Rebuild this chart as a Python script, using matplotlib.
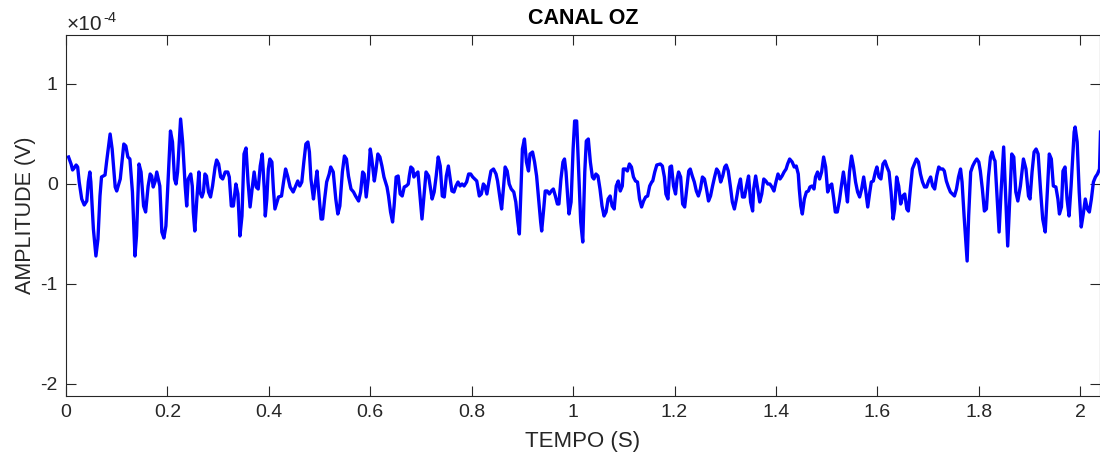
import matplotlib
matplotlib.use("Agg")
import matplotlib.pyplot as plt
from matplotlib.ticker import FixedLocator, FixedFormatter
import numpy as np

plt.rcParams['font.family'] = ['Liberation Sans', 'DejaVu Sans']
plt.rcParams['axes.unicode_minus'] = False

title = "CANAL OZ"
xlabel = "TEMPO (S)"
ylabel = "AMPLITUDE (V)"

# time (s)
tempo_s = [
    0.005, 0.010, 0.013, 0.016, 0.020, 0.023, 0.026, 0.031, 0.036, 0.041, 0.044, 0.047, 0.049, 0.054, 0.059,
    0.063, 0.067, 0.070, 0.077, 0.080, 0.087, 0.091, 0.097, 0.100, 0.107, 0.114, 0.118, 0.122, 0.126, 0.131,
    0.136, 0.139, 0.144, 0.148, 0.153, 0.157, 0.162, 0.166, 0.169, 0.172, 0.176, 0.179,
    0.185, 0.189, 0.193, 0.197, 0.202, 0.206, 0.210, 0.214, 0.217, 0.220, 0.224, 0.226, 0.230, 0.235, 0.238,
    0.241, 0.246, 0.249, 0.251, 0.254, 0.258, 0.262, 0.264, 0.268, 0.271, 0.274, 0.277, 0.281, 0.285, 0.289,
    0.294, 0.297, 0.301, 0.305, 0.309, 0.314, 0.319, 0.322, 0.326, 0.330, 0.335, 0.339, 0.343, 0.347, 0.351,
    0.355, 0.359, 0.363, 0.367, 0.371, 0.375, 0.379, 0.383, 0.387, 0.391,
    0.393, 0.396, 0.399, 0.402, 0.406, 0.409, 0.412, 0.416, 0.419, 0.425, 0.429, 0.433, 0.437, 0.442, 0.448,
    0.453, 0.457, 0.461, 0.465, 0.469, 0.473, 0.477, 0.480, 0.483, 0.488, 0.491, 0.495, 0.499, 0.503, 0.506,
    0.510, 0.514, 0.519, 0.522, 0.527, 0.532, 0.536, 0.540, 0.545, 0.549, 0.553, 0.557, 0.562, 0.567, 0.571,
    0.577, 0.581, 0.585, 0.588, 0.592, 0.596, 0.600,
    0.603, 0.608, 0.611, 0.615, 0.619, 0.623, 0.627, 0.633, 0.636, 0.640, 0.644, 0.647, 0.651, 0.655, 0.659,
    0.663, 0.667, 0.671, 0.675, 0.677, 0.680, 0.684, 0.686, 0.690, 0.694, 0.698, 0.702, 0.706, 0.710, 0.715,
    0.718, 0.722, 0.726, 0.730, 0.734, 0.738, 0.742, 0.746, 0.750, 0.754, 0.757, 0.761, 0.765, 0.769, 0.773,
    0.777, 0.781, 0.785, 0.790, 0.794, 0.798, 0.802, 0.806,
    0.810, 0.815, 0.819, 0.823, 0.826, 0.830, 0.834, 0.838, 0.843, 0.848, 0.851, 0.856, 0.859, 0.863, 0.866,
    0.870, 0.874, 0.878, 0.883, 0.887, 0.891, 0.894, 0.897, 0.900, 0.904, 0.908, 0.912, 0.915, 0.920, 0.924,
    0.928, 0.932, 0.936, 0.938, 0.942, 0.945, 0.949, 0.953, 0.957, 0.961, 0.965, 0.969, 0.972, 0.976, 0.980,
    0.983, 0.986, 0.990, 0.992, 0.996, 1.000, 1.003, 1.007, 1.011, 1.015,
    1.019, 1.023, 1.026, 1.030, 1.034, 1.038, 1.041, 1.045, 1.049, 1.053, 1.057, 1.061, 1.065, 1.069, 1.073,
    1.077, 1.081, 1.085, 1.089, 1.093, 1.097, 1.099, 1.103, 1.107, 1.111, 1.115, 1.119, 1.123, 1.127, 1.131,
    1.135, 1.139, 1.143, 1.147, 1.151, 1.155, 1.157, 1.161, 1.165, 1.172, 1.176, 1.180, 1.183, 1.187, 1.191,
    1.194, 1.198, 1.202, 1.205, 1.208, 1.212, 1.216, 1.220,
    1.224, 1.228, 1.231, 1.235, 1.239, 1.243, 1.247, 1.251, 1.255, 1.259, 1.263, 1.267, 1.271, 1.275, 1.279,
    1.283, 1.287, 1.291, 1.295, 1.299, 1.302, 1.306, 1.310, 1.314, 1.318, 1.322, 1.326, 1.330, 1.334, 1.338,
    1.342, 1.346, 1.350, 1.354, 1.356, 1.360, 1.364, 1.368, 1.372, 1.376, 1.380, 1.384, 1.388, 1.392, 1.396,
    1.400, 1.404, 1.408, 1.412, 1.416, 1.420, 1.423, 1.427,
    1.432, 1.436, 1.440, 1.444, 1.446, 1.449, 1.452, 1.456, 1.460, 1.464, 1.467, 1.471, 1.475, 1.478, 1.482,
    1.486, 1.490, 1.494, 1.498, 1.502, 1.506, 1.510, 1.514, 1.517, 1.521, 1.525, 1.529, 1.533, 1.537, 1.541,
    1.545, 1.549, 1.553, 1.557, 1.561, 1.565, 1.569, 1.573, 1.577, 1.581, 1.585, 1.588, 1.592, 1.596, 1.599,
    1.603, 1.607, 1.611, 1.615, 1.619, 1.623, 1.627, 1.631, 1.634, 1.638, 1.642,
    1.646, 1.650, 1.654, 1.658, 1.661, 1.665, 1.669, 1.673, 1.677, 1.681, 1.685, 1.689, 1.693, 1.697, 1.701,
    1.705, 1.709, 1.713, 1.717, 1.721, 1.725, 1.729, 1.732, 1.736, 1.740, 1.744, 1.748, 1.752, 1.756, 1.760,
    1.764, 1.767, 1.771, 1.775, 1.777, 1.780, 1.784, 1.788, 1.792, 1.796, 1.800, 1.803, 1.807, 1.811, 1.815,
    1.819, 1.823, 1.826, 1.830,
    1.832, 1.836, 1.840, 1.844, 1.849, 1.853, 1.857, 1.861, 1.865, 1.869, 1.873, 1.877, 1.882, 1.888, 1.893,
    1.898, 1.901, 1.905, 1.909, 1.913, 1.917, 1.922, 1.926, 1.931, 1.935, 1.939, 1.943, 1.947, 1.952, 1.956,
    1.959, 1.963, 1.966, 1.970, 1.974, 1.978, 1.982, 1.988, 1.990, 1.994, 1.998, 2.002, 2.006, 2.010, 2.014,
    2.018, 2.022, 2.026, 2.030, 2.034, 2.038, 2.040,
]

# amplitude in units of 1e-4 V
amplitude_e4 = [
    0.27, 0.20, 0.14, 0.16, 0.19, 0.17, 0.02, -0.15, -0.21, -0.17, 0.02, 0.12, 0.02, -0.45, -0.72,
    -0.55, -0.12, 0.07, 0.09, 0.22, 0.50, 0.35, -0.03, -0.07, 0.05, 0.40, 0.38, 0.27, 0.25, -0.08,
    -0.72, -0.52, 0.20, 0.12, -0.22, -0.28, -0.02, 0.10, 0.08, -0.03, 0.03, 0.12,
    -0.02, -0.48, -0.54, -0.42, 0.12, 0.53, 0.42, 0.05, 0.00, 0.12, 0.48, 0.65, 0.42, -0.02, -0.22,
    0.05, 0.10, -0.02, -0.28, -0.47, -0.15, 0.12, -0.08, -0.13, -0.08, 0.10, 0.08, -0.08, -0.13, -0.02,
    0.17, 0.24, 0.20, 0.07, 0.05, 0.12, 0.12, 0.07, -0.22, -0.22, 0.00, -0.10, -0.52, -0.32, 0.30,
    0.36, 0.02, -0.23, -0.05, 0.12, -0.03, -0.05, 0.18, 0.30, -0.05,
    -0.32, -0.15, 0.15, 0.25, 0.22, -0.05, -0.25, -0.18, -0.13, -0.12, 0.02, 0.15, 0.08, -0.03, -0.08,
    -0.02, 0.03, -0.02, 0.02, 0.22, 0.40, 0.42, 0.32, 0.05, -0.15, -0.02, 0.13, -0.12, -0.35, -0.35,
    -0.15, 0.02, 0.10, 0.17, 0.12, -0.15, -0.30, -0.22, 0.12, 0.28, 0.25, 0.08, -0.05, -0.08, -0.12,
    -0.17, -0.08, 0.12, 0.10, -0.13, 0.05, 0.35,
    0.25, 0.03, 0.13, 0.30, 0.27, 0.18, 0.07, -0.03, -0.12, -0.28, -0.38, -0.22, 0.07, 0.08, -0.10,
    -0.12, -0.03, -0.02, 0.00, 0.08, 0.17, 0.15, 0.07, 0.10, 0.12, -0.12, -0.35, -0.12, 0.12, 0.08,
    -0.02, -0.15, -0.08, 0.08, 0.27, 0.18, -0.12, -0.13, 0.08, 0.18, 0.07, -0.07, -0.08, -0.02, 0.02,
    -0.02, 0.00, -0.02, 0.02, 0.10, 0.10, 0.07, 0.05,
    0.03, -0.12, -0.10, 0.00, -0.02, -0.10, 0.02, 0.13, 0.15, 0.10, 0.03, -0.15, -0.25, -0.02, 0.17,
    0.13, 0.00, -0.05, -0.08, -0.18, -0.38, -0.50, -0.08, 0.35, 0.45, 0.22, 0.13, 0.30, 0.32, 0.22,
    0.08, -0.15, -0.38, -0.47, -0.25, -0.07, -0.07, -0.10, -0.07, -0.05, -0.12, -0.20, -0.20, 0.05, 0.22,
    0.25, 0.12, -0.18, -0.30, -0.18, 0.35, 0.63, 0.63, 0.12, -0.38,
    -0.58, 0.12, 0.43, 0.45, 0.22, 0.07, 0.05, 0.10, 0.08, -0.05, -0.22, -0.32, -0.28, -0.15, -0.12,
    -0.22, -0.25, -0.02, 0.03, -0.07, -0.02, 0.15, 0.15, 0.13, 0.20, 0.17, 0.07, 0.03, 0.02, -0.15,
    -0.23, -0.17, -0.13, -0.12, -0.02, 0.02, 0.03, 0.12, 0.19, 0.20, 0.18, 0.07, -0.10, -0.15, 0.17,
    0.18, -0.02, -0.10, 0.05, 0.12, 0.07, -0.20, -0.23,
    -0.05, 0.13, 0.15, 0.08, 0.02, -0.07, -0.12, -0.05, 0.07, 0.05, -0.05, -0.17, -0.12, -0.02, 0.07,
    0.15, 0.12, 0.02, 0.08, 0.17, 0.19, 0.13, -0.02, -0.18, -0.25, -0.15, -0.03, 0.05, -0.13, -0.13,
    -0.02, 0.08, -0.18, -0.27, -0.05, 0.08, -0.05, -0.18, -0.10, 0.05, 0.03, 0.00, 0.00, -0.03, -0.07,
    0.02, 0.10, 0.05, 0.08, 0.12, 0.15, 0.20, 0.25,
    0.22, 0.17, 0.18, 0.10, -0.05, -0.22, -0.30, -0.15, -0.08, -0.07, -0.03, -0.02, -0.05, 0.07, 0.12,
    0.05, 0.12, 0.27, 0.17, -0.08, -0.02, 0.00, -0.15, -0.28, -0.28, -0.17, -0.02, 0.12, -0.02, -0.18,
    0.12, 0.28, 0.17, 0.02, -0.08, -0.13, -0.05, 0.07, -0.07, -0.23, -0.08, 0.02, 0.03, 0.12, 0.17,
    0.07, 0.05, 0.20, 0.23, 0.17, 0.12, -0.08, -0.35, -0.25, 0.07, -0.02,
    -0.20, -0.12, -0.10, -0.25, -0.27, -0.05, 0.15, 0.20, 0.25, 0.22, 0.10, 0.02, -0.03, -0.03, 0.03,
    0.07, -0.02, -0.05, 0.08, 0.17, 0.15, 0.15, 0.13, 0.03, -0.03, -0.08, -0.10, -0.12, -0.05, 0.07,
    0.15, 0.02, -0.32, -0.62, -0.77, -0.32, 0.12, 0.18, 0.22, 0.25, 0.22, 0.13, -0.05, -0.27, -0.25,
    0.07, 0.27, 0.32, 0.25,
    0.23, -0.12, -0.48, -0.07, 0.37, -0.12, -0.62, -0.15, 0.30, 0.27, -0.08, -0.17, -0.02, 0.25, 0.15,
    -0.12, -0.15, 0.12, 0.32, 0.35, 0.30, -0.08, -0.35, -0.48, -0.08, 0.30, 0.25, -0.02, -0.03, -0.15,
    -0.30, -0.23, 0.13, 0.17, -0.15, -0.32, -0.02, 0.52, 0.57, 0.42, -0.08, -0.43, -0.30, -0.15, -0.25,
    -0.28, -0.15, 0.02, 0.07, 0.10, 0.15, 0.52,
]

x_ticks = [0, 0.2, 0.4, 0.6, 0.8, 1.0, 1.2, 1.4, 1.6, 1.8, 2.0]
x_tick_labels = ["0", "0.2", "0.4", "0.6", "0.8", "1", "1.2", "1.4", "1.6", "1.8", "2"]
y_ticks_e4 = [-2, -1, 0, 1]
y_tick_labels = ["-2", "-1", "0", "1"]
exponent_base = "\u00d710"
exponent_power = "-4"

t = np.array(tempo_s)
amp = np.array(amplitude_e4) * 1e-4

W, H = 1100, 457
fig = plt.figure(figsize=(W / 100, H / 100), dpi=100)
ax = fig.add_axes([66 / W, 1 - 396 / H, (1100 - 66) / W, (396 - 35) / H])

ax.plot(t, amp, color=(0, 0, 1), linewidth=2.4, solid_joinstyle='round')

ax.set_xlim(0, 2.039)
ax.set_ylim(-2.12e-4, 1.49e-4)
ax.set_xticks(x_ticks)
ax.set_xticklabels(x_tick_labels)
ax.yaxis.set_major_locator(FixedLocator([v * 1e-4 for v in y_ticks_e4]))
ax.yaxis.set_major_formatter(FixedFormatter(y_tick_labels))

axc = (0.15, 0.15, 0.15)
for s in ax.spines.values():
    s.set_color(axc)
    s.set_linewidth(0.8)
ax.tick_params(direction='in', length=7, width=0.8, color=axc, labelcolor=axc,
               labelsize=14, top=True, right=True)
ax.tick_params(axis='x', pad=6)
ax.tick_params(axis='y', pad=6)

# exponent label (x10^-4) at top-left of the axes
ax.annotate(exponent_base, xy=(0, 1), xycoords='axes fraction', xytext=(1, 5),
            textcoords='offset pixels', fontsize=15, color=axc, ha='left', va='baseline')
ax.annotate(exponent_power, xy=(0, 1), xycoords='axes fraction', xytext=(37, 13),
            textcoords='offset pixels', fontsize=10.5, color=axc, ha='left', va='baseline')

ax.set_title(title, fontsize=15.5, fontweight='bold', pad=8, color='black')
ax.set_xlabel(xlabel, fontsize=16, color=axc, labelpad=7)
ax.set_ylabel(ylabel, fontsize=15.5, color=axc, labelpad=3)

fig.savefig("out.png", dpi=100)
